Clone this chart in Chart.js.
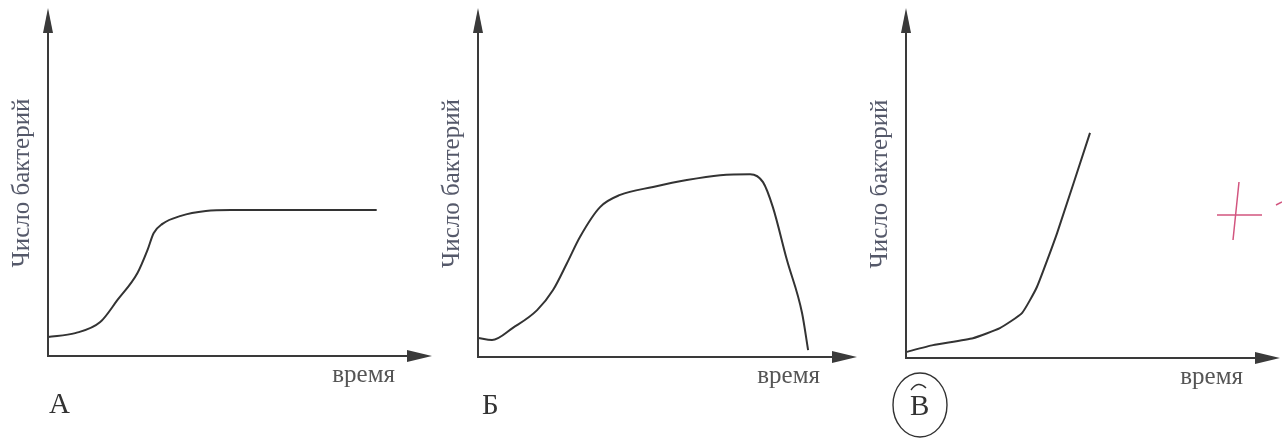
<!DOCTYPE html>
<html>
<head>
<meta charset="utf-8">
<script src="https://cdn.jsdelivr.net/npm/chart.js@4/dist/chart.umd.min.js"></script>
<style>
  html, body { margin: 0; padding: 0; background: #fff; }
  body { width: 1282px; height: 439px; position: relative; overflow: hidden; }
  .box { position: absolute; top: 0; height: 439px; }
</style>
</head>
<body>
<div class="box" style="left:0;width:440px"><canvas id="chartA" width="440" height="439"></canvas></div>
<div class="box" style="left:440px;width:430px"><canvas id="chartB" width="430" height="439"></canvas></div>
<div class="box" style="left:870px;width:412px"><canvas id="chartC" width="412" height="439"></canvas></div>
<script>
// время (0-100) и число бактерий (0-100)
const timeA  = [0, 7.1, 13.6, 18.1, 23.3, 25.9, 27.5, 29.8, 34.6, 41.1, 47.6, 85.6]
const countA = [5.5, 6.6, 9.8, 16.2, 24.0, 30.6, 35.5, 38.2, 40.5, 41.9, 42.2, 42.2]

const timeB  = [0, 3.7, 9.2, 15.6, 19.8, 23.5, 26.9, 32.2, 37.5, 46.2, 55.1, 63.9, 71.8, 75.2, 77.8, 81.5, 85.5, 87.1]
const countB = [5.5, 4.9, 8.4, 13.5, 19.3, 27.1, 34.6, 43.2, 46.7, 49.0, 51.0, 52.4, 52.7, 50.4, 43.2, 28.0, 12.7, 2.0]

const timeC  = [0, 7.2, 17.9, 25.1, 31.0, 35.0, 40.4, 49.2]
const countC = [1.7, 3.7, 5.7, 8.6, 12.9, 20.4, 35.9, 64.7]

const yLabel = 'Число бактерий'
const xLabel = 'время'

const SERIF = '"Liberation Serif", "DejaVu Serif", serif'

// оси со стрелками и подписи
const axesPlugin = {
    id: 'axesPlugin',
    afterDraw(chart, args, opts) {
        const ctx = chart.ctx
        const a = chart.chartArea
        const x0 = chart.scales.x.getPixelForValue(0)
        const y0 = chart.scales.y.getPixelForValue(0)
        ctx.save()
        ctx.strokeStyle = '#3a3a3a'
        ctx.fillStyle = '#3a3a3a'
        ctx.lineWidth = 2
        ctx.beginPath()
        ctx.moveTo(x0, a.top + 10)
        ctx.lineTo(x0, y0)
        ctx.lineTo(a.right - 10, y0)
        ctx.stroke()
        // стрелка вверх
        ctx.beginPath()
        ctx.moveTo(x0, a.top - 2)
        ctx.lineTo(x0 - 5, a.top + 23)
        ctx.lineTo(x0 + 5, a.top + 23)
        ctx.closePath()
        ctx.fill()
        // стрелка вправо
        ctx.beginPath()
        ctx.moveTo(a.right, y0)
        ctx.lineTo(a.right - 25, y0 - 6)
        ctx.lineTo(a.right - 25, y0 + 6)
        ctx.closePath()
        ctx.fill()

        // подпись оси Y
        ctx.save()
        ctx.translate(a.left - 26, (a.top + a.bottom) / 2)
        ctx.rotate(-Math.PI / 2)
        ctx.fillStyle = '#55596a'
        ctx.font = '25px ' + SERIF
        ctx.textAlign = 'center'
        ctx.textBaseline = 'middle'
        ctx.fillText(yLabel, 0, 0)
        ctx.restore()

        // подпись оси X
        ctx.fillStyle = '#555'
        ctx.font = '25px ' + SERIF
        ctx.textAlign = 'right'
        ctx.textBaseline = 'alphabetic'
        ctx.fillText(xLabel, a.right - 37, y0 + 26)

        // буква графика
        ctx.fillStyle = '#333'
        ctx.font = '29px ' + SERIF
        ctx.textAlign = 'left'
        ctx.fillText(opts.letter, x0 + opts.letterDx, y0 + 57)

        if (opts.marked) {
            // обведённая буква и пометка
            ctx.strokeStyle = '#333'
            ctx.lineWidth = 1.4
            ctx.beginPath()
            ctx.ellipse(x0 + 14, y0 + 47, 27, 32, 0, 0, Math.PI * 2)
            ctx.stroke()
            ctx.beginPath()
            ctx.moveTo(x0 + 5, y0 + 32)
            ctx.quadraticCurveTo(x0 + 12, y0 + 22, x0 + 20, y0 + 30)
            ctx.stroke()
            ctx.strokeStyle = '#d2557f'
            ctx.lineWidth = 1.5
            ctx.beginPath()
            ctx.moveTo(x0 + 311, y0 - 143)
            ctx.lineTo(x0 + 356, y0 - 143)
            ctx.moveTo(x0 + 333, y0 - 176)
            ctx.lineTo(x0 + 327, y0 - 118)
            ctx.moveTo(a.right - 4, y0 - 153)
            ctx.lineTo(a.right + 2, y0 - 156)
            ctx.stroke()
        }
        ctx.restore()
    }
}

function makeChart(id, times, counts, padding, letter, letterDx, marked, smooth) {
    const ctx = document.getElementById(id).getContext('2d')
    return new Chart(ctx, {
        type: 'line',
        data: {
            datasets: [
                {
                    data: times.map((t, i) => ({x: t, y: counts[i]})),
                    borderColor: '#333',
                    borderWidth: 2,
                    pointRadius: 0,
                    cubicInterpolationMode: smooth ? 'monotone' : 'default',
                    tension: smooth ? 0 : 0.15,
                    fill: false
                }
            ]
        },
        options: {
            responsive: false,
            animation: false,
            devicePixelRatio: 1,
            clip: false,
            layout: {padding: padding},
            plugins: {
                legend: {display: false},
                tooltip: {enabled: false},
                axesPlugin: {letter: letter, letterDx: letterDx, marked: marked}
            },
            scales: {
                x: {type: 'linear', min: 0, max: 100, display: false},
                y: {type: 'linear', min: 0, max: 100, display: false}
            }
        },
        plugins: [axesPlugin]
    })
}

makeChart('chartA', timeA, countA, {left: 48, top: 10, right: 8, bottom: 83}, 'А', 1, false, true)
makeChart('chartB', timeB, countB, {left: 38, top: 10, right: 13, bottom: 82}, 'Б', 4, false, true)
makeChart('chartC', timeC, countC, {left: 36, top: 10, right: 2, bottom: 81}, 'В', 4, true, false)
</script>
</body>
</html>
